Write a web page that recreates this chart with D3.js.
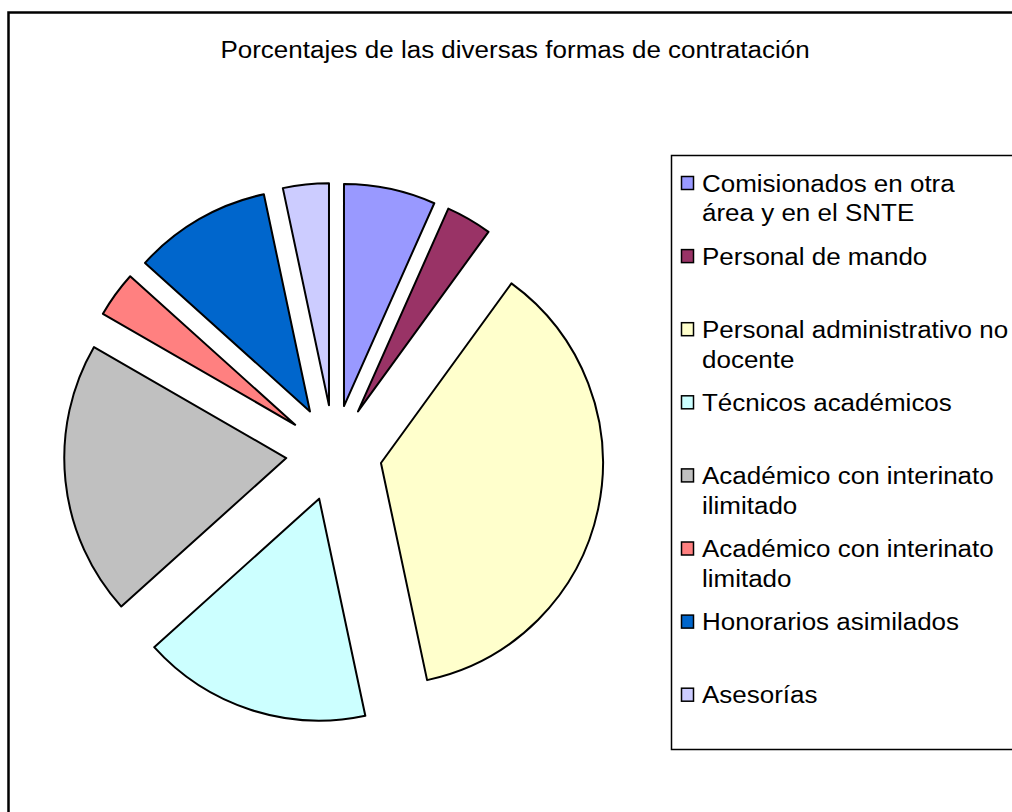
<!DOCTYPE html>
<html>
<head>
<meta charset="utf-8">
<script src="https://cdn.jsdelivr.net/npm/d3@7"></script>
<style>
  body { margin: 0; background: #fff; }
  text { font-family: Arial, "Liberation Sans", sans-serif; fill: #000; }
</style>
</head>
<body>
<script>
var width = 1012;
var height = 812;
var title = 'Porcentajes de las diversas formas de contratación';
var categories = [
  'Comisionados en otra área y en el SNTE',
  'Personal de mando',
  'Personal administrativo no docente',
  'Técnicos académicos',
  'Académico con interinato ilimitado',
  'Académico con interinato limitado',
  'Honorarios asimilados',
  'Asesorías'
];
var legendLines = [
  ['Comisionados en otra', 'área y en el SNTE'],
  ['Personal de mando'],
  ['Personal administrativo no', 'docente'],
  ['Técnicos académicos'],
  ['Académico con interinato', 'ilimitado'],
  ['Académico con interinato', 'limitado'],
  ['Honorarios asimilados'],
  ['Asesorías']
];
var values = [2, 1, 11, 5, 6, 1, 3, 1];
var colors = ['#9999FF', '#993366', '#FFFFCC', '#CCFFFF', '#C0C0C0', '#FF8080', '#0066CC', '#CCCCFF'];

var cx = 334, cy = 453, radius = 222, explode = 48;
var textScale = 1.13;

var data = categories.map(function(c, i) { return {name: c, value: values[i], lines: legendLines[i]}; });
var color = d3.scaleOrdinal().domain(categories).range(colors);
var pie = d3.pie().sort(null).value(function(d) { return d.value; });
var arc = d3.arc().innerRadius(0).outerRadius(radius);

var svg = d3.select('body').append('svg').attr('width', width).attr('height', height);

// outer chart border
svg.append('rect').attr('x', 8.5).attr('y', 12.5).attr('width', 1100).attr('height', 900)
  .attr('fill', '#fff').attr('stroke', '#000').attr('stroke-width', 2.5);

svg.append('text').attr('x', 0).attr('y', 58)
  .attr('transform', 'translate(515,0) scale(' + textScale + ',1)')
  .attr('text-anchor', 'middle').style('font-size', '23px').text(title);

var g = svg.append('g').attr('transform', 'translate(' + cx + ',' + cy + ')');
g.selectAll('path').data(pie(data)).enter().append('path')
  .attr('d', arc)
  .attr('transform', function(d) {
    var a = (d.startAngle + d.endAngle) / 2;
    return 'translate(' + (Math.sin(a) * explode) + ',' + (-Math.cos(a) * explode) + ')';
  })
  .attr('fill', function(d) { return color(d.data.name); })
  .attr('stroke', '#000').attr('stroke-width', 2).attr('stroke-linejoin', 'round');

// legend
var lx = 671, ly = 155, slot = 73.1, firstLine = 183, lineGap = 30;
svg.append('rect').attr('x', lx + 0.5).attr('y', ly + 0.5).attr('width', 500).attr('height', 594)
  .attr('fill', '#fff').attr('stroke', '#000').attr('stroke-width', 1.5);

var item = svg.selectAll('.item').data(data).enter().append('g').attr('class', 'item')
  .attr('transform', function(d, i) { return 'translate(0,' + (firstLine + i * slot) + ')'; });
item.append('rect').attr('x', 681.5).attr('y', -6.5).attr('width', 12).attr('height', 13)
  .attr('fill', function(d) { return color(d.name); }).attr('stroke', '#000').attr('stroke-width', 1.5);
item.each(function(d) {
  var t = d3.select(this);
  d.lines.forEach(function(line, j) {
    t.append('text').attr('x', 0).attr('y', j * lineGap + 8.5)
      .attr('transform', 'translate(702,0) scale(' + textScale + ',1)')
      .style('font-size', '23px').text(line);
  });
});
</script>
</body>
</html>
